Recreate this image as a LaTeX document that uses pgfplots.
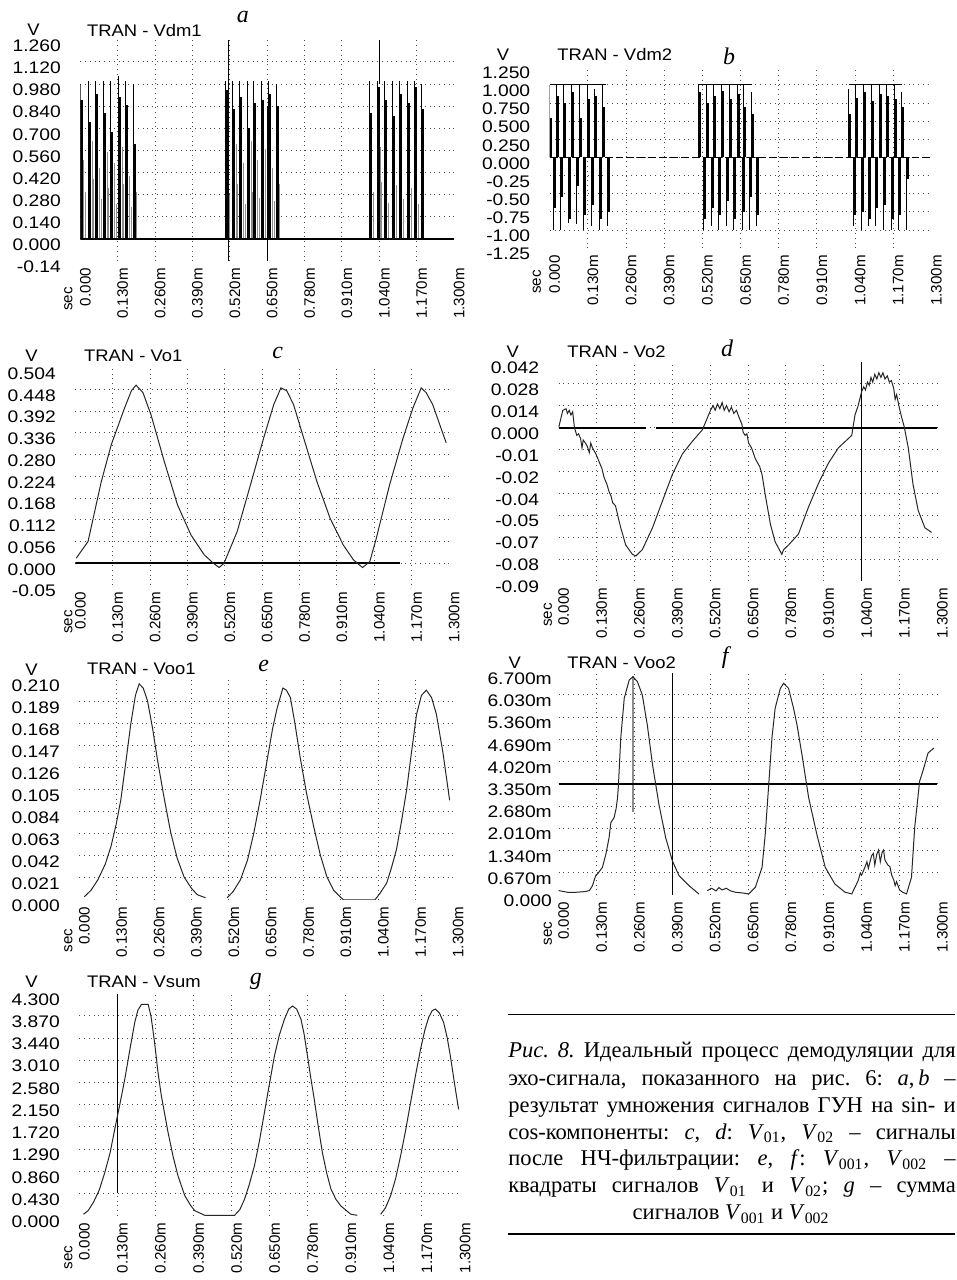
\documentclass[border=0pt]{standalone}
\usepackage{fontspec}
\setmainfont{Liberation Sans}
\newfontfamily\serif{Liberation Serif}
\usepackage{pgfplots}
\pgfplotsset{compat=1.18}

\pgfplotsset{
  panel/.style={
    scale only axis, anchor=north west,
    xmin=0, xmax=1.3,
    scaled ticks=false,
    xtick={0.13,0.26,0.39,0.52,0.65,0.78,0.91,1.04,1.17},
    xticklabels={0.130m,0.260m,0.390m,0.520m,0.650m,0.780m,0.910m,1.040m,1.170m},
    extra x ticks={0,1.3}, extra x tick labels={0.000,1.300m},
    extra x tick style={grid=none},
    extra y tick style={grid=none},
    xmajorgrids, ymajorgrids,
    grid style={dotted, black!70, line width=0.5pt},
    axis line style={draw=none},
    major tick length=0pt,
    xticklabel style={xshift=2.5pt, rotate=90, anchor=east, font=\fontsize{7.6}{8}\selectfont},
    yticklabel style={font=\fontsize{8.4}{9}\selectfont, xscale=1.15, xshift=-5pt, yshift=-3pt},
  },
  sig/.style={black!85, line width=0.5pt, no marks},
}

\begin{document}
\frenchspacing
\begin{tikzpicture}
\begin{scope}[x=0.5pt,y=-0.5pt]
  \path[use as bounding box] (0,0) rectangle (948,1280);
  \coordinate (A) at (69,40);
  \coordinate (B) at (540,67);
  \coordinate (C) at (64,369);
  \coordinate (D) at (549,363);
  \coordinate (E) at (68,682);
  \coordinate (F) at (549,675);
  \coordinate (G) at (68,997);
\end{scope}

% ---------- a: Vdm1
\begin{axis}[panel, at={(A)}, width=187.5pt, height=111pt,
  ymin=-0.14, ymax=1.26,
  ytick={0,0.14,0.28,0.42,0.56,0.70,0.84,0.98,1.12},
  yticklabels={0.000,0.140,0.280,0.420,0.560,0.700,0.840,0.980,1.120},
  extra y ticks={-0.14,1.26}, extra y tick labels={-0.14,1.260}]
\addplot[ycomb, black!45, line width=0.4pt, no marks] coordinates {
 (0.012,0.50)(0.019,0.30)(0.041,0.62)(0.046,0.38)(0.066,0.45)(0.072,0.25)(0.093,0.55)(0.098,0.32)
 (0.118,0.48)(0.124,0.22)(0.145,0.58)(0.150,0.35)(0.170,0.40)(0.176,0.20)(0.194,0.30)
 (0.514,0.55)(0.520,0.28)(0.543,0.60)(0.548,0.35)(0.567,0.48)(0.573,0.22)(0.594,0.62)(0.598,0.30)
 (0.616,0.50)(0.622,0.26)(0.644,0.57)(0.649,0.33)(0.668,0.45)(0.674,0.24)(0.692,0.35)
 (1.013,0.52)(1.020,0.30)(1.042,0.58)(1.047,0.36)(1.066,0.47)(1.072,0.23)(1.094,0.60)(1.099,0.34)
 (1.118,0.50)(1.124,0.25)(1.146,0.56)(1.150,0.32)(1.170,0.44)(1.176,0.22)(1.193,0.30)};
\addplot[ycomb, black, line width=1.1pt, no marks] coordinates {
 (0.004,0.88)(0.033,0.74)(0.058,0.92)(0.085,0.80)(0.110,0.68)(0.137,0.90)(0.162,0.85)(0.189,0.60)
 (0.510,0.94)(0.535,0.82)(0.560,0.90)(0.587,0.70)(0.608,0.86)(0.636,0.88)(0.660,0.92)(0.688,0.84)
 (1.010,0.80)(1.038,0.96)(1.062,0.88)(1.090,0.78)(1.114,0.92)(1.142,0.86)(1.166,0.96)(1.190,0.82)};
\addplot[ycomb, black, line width=0.5pt, no marks] coordinates {
 (0.000,0.98)(0.028,1.00)(0.052,1.00)(0.080,1.00)(0.104,1.00)(0.132,1.03)(0.156,1.00)(0.184,0.98)
 (0.506,1.00)(0.530,1.00)(0.555,1.00)(0.582,1.00)(0.603,1.00)(0.631,1.00)(0.655,1.00)(0.683,0.98)
 (1.005,1.00)(1.033,1.00)(1.057,1.00)(1.085,1.00)(1.109,1.00)(1.137,1.00)(1.161,1.00)(1.186,0.98)};
\addplot[black, line width=1pt] coordinates {(0,0)(1.3,0)};
\addplot[black, line width=0.5pt] coordinates {(0.517,-0.14)(0.517,1.26)};
\addplot[black, line width=0.5pt] coordinates {(0.65,-0.14)(0.65,0.84)};
\addplot[black, line width=0.5pt] coordinates {(1.04,0.98)(1.04,1.26)};
\end{axis}

% ---------- b: Vdm2
\begin{axis}[panel, at={(B)}, width=191.5pt, height=91pt,
  ymin=-1.25, ymax=1.25,
  ytick={-1,-0.75,-0.5,-0.25,0,0.25,0.5,0.75,1},
  yticklabels={-1.00,-0.75,-0.50,-0.25,0.000,0.250,0.500,0.750,1.000},
  extra y ticks={-1.25,1.25}, extra y tick labels={-1.25,1.250}]
\addplot[ycomb, black, line width=1.1pt, no marks] coordinates {
 (0.005,0.55)(0.029,0.85)(0.053,0.75)(0.080,0.90)(0.107,0.55)(0.134,0.80)(0.158,0.85)(0.185,0.70)
 (0.511,0.90)(0.538,0.75)(0.562,0.85)(0.589,0.92)(0.616,0.80)(0.643,0.88)(0.664,0.70)(0.691,0.60)
 (1.023,0.60)(1.047,0.82)(1.074,0.90)(1.101,0.78)(1.128,0.88)(1.152,0.85)(1.179,0.80)(1.203,0.70)
 (0.019,-0.70)(0.042,-0.55)(0.069,-0.85)(0.097,-0.40)(0.120,-0.80)(0.148,-0.65)(0.175,-0.85)(0.202,-0.75)
 (0.528,-0.85)(0.555,-0.70)(0.579,-0.80)(0.606,-0.60)(0.630,-0.85)(0.660,-0.75)(0.684,-0.55)(0.708,-0.80)
 (1.040,-0.80)(1.067,-0.75)(1.091,-0.85)(1.115,-0.70)(1.142,-0.65)(1.169,-0.85)(1.193,-0.80)(1.219,-0.30)};
\addplot[ycomb, black, line width=0.5pt, no marks] coordinates {
 (0.000,1.0)(0.024,1.0)(0.048,1.0)(0.075,1.0)(0.102,1.0)(0.129,1.0)(0.153,0.95)(0.180,1.0)
 (0.506,1.0)(0.533,1.0)(0.557,1.0)(0.584,1.0)(0.611,1.0)(0.638,1.0)(0.659,1.0)(0.686,0.90)
 (1.018,0.95)(1.042,1.0)(1.069,1.0)(1.096,1.0)(1.123,1.0)(1.147,1.0)(1.174,1.0)(1.198,0.90)
 (0.014,-1.0)(0.037,-1.0)(0.064,-0.9)(0.092,-0.92)(0.115,-1.0)(0.143,-0.95)(0.170,-1.0)(0.197,-0.95)
 (0.523,-1.0)(0.550,-0.95)(0.574,-1.0)(0.601,-0.95)(0.625,-1.0)(0.655,-1.0)(0.679,-1.0)(0.703,-0.95)
 (1.035,-0.95)(1.062,-1.0)(1.086,-0.95)(1.110,-0.95)(1.137,-1.0)(1.164,-1.0)(1.188,-1.0)(1.215,-1.0)};
\addplot[black, line width=0.5pt] coordinates {(0,1)(0.19,1)};
\addplot[black, line width=0.5pt] coordinates {(0.506,1)(0.69,1)};
\addplot[black, line width=0.5pt] coordinates {(1.018,1)(1.20,1)};
\addplot[black, line width=0.9pt, dash pattern=on 4pt off 1.5pt] coordinates {(0,0)(1.3,0)};
\end{axis}

% ---------- c: Vo1
\begin{axis}[panel, at={(C)}, width=187.5pt, height=109pt,
  ymin=-0.056, ymax=0.504,
  ytick={0,0.056,0.112,0.168,0.224,0.28,0.336,0.392,0.448},
  yticklabels={0.000,0.056,0.112,0.168,0.224,0.280,0.336,0.392,0.448},
  extra y ticks={-0.056,0.504}, extra y tick labels={-0.05,0.504}]
\addplot[black, line width=1pt] coordinates {(0,0)(1.13,0)};
\addplot[sig] coordinates {
 (0.003,0.013)(0.044,0.056)(0.09,0.21)(0.125,0.306)(0.171,0.40)(0.195,0.445)(0.211,0.459)
 (0.235,0.44)(0.263,0.383)(0.309,0.263)(0.355,0.151)(0.402,0.073)(0.448,0.022)(0.48,0.0)
 (0.50,-0.011)(0.517,0.0)(0.563,0.082)(0.609,0.202)(0.655,0.323)(0.69,0.409)(0.715,0.452)
 (0.735,0.445)(0.759,0.409)(0.794,0.323)(0.84,0.211)(0.886,0.116)(0.932,0.047)(0.967,0.009)
 (0.999,-0.011)(1.024,0.004)(1.047,0.065)(1.093,0.202)(1.14,0.323)(1.174,0.40)(1.203,0.452)
 (1.22,0.44)(1.243,0.409)(1.29,0.31)};
\end{axis}

% ---------- d: Vo2
\begin{axis}[panel, at={(D)}, width=190pt, height=110pt,
  ymin=-0.098, ymax=0.042,
  ytick={-0.084,-0.07,-0.056,-0.042,-0.028,-0.014,0,0.014,0.028},
  yticklabels={-0.08,-0.07,-0.05,-0.04,-0.02,-0.01,0.000,0.014,0.028},
  extra y ticks={-0.098,0.042}, extra y tick labels={-0.09,0.042}]
\addplot[black, line width=1pt] coordinates {(0,0)(0.30,0)};
\addplot[black, line width=1pt] coordinates {(0.333,0)(1.3,0)};
\addplot[black, line width=0.5pt] coordinates {(1.04,-0.098)(1.04,0.042)};
\addplot[sig] coordinates {
 (0,0)(0.014,0.011)(0.025,0.012)(0.030,0.009)(0.036,0.011)(0.042,0.008)(0.048,0.010)(0.054,0.0)
 (0.062,-0.005)(0.068,-0.004)(0.075,-0.007)(0.080,-0.013)(0.084,-0.008)(0.092,-0.010)(0.098,-0.012)
 (0.105,-0.016)(0.110,-0.010)(0.116,-0.013)(0.122,-0.015)(0.128,-0.017)(0.139,-0.022)(0.148,-0.026)
 (0.156,-0.032)(0.165,-0.036)(0.173,-0.041)(0.18,-0.044)(0.185,-0.048)(0.195,-0.050)(0.205,-0.058)
 (0.213,-0.064)(0.230,-0.075)(0.253,-0.081)(0.265,-0.082)(0.287,-0.078)(0.322,-0.064)(0.356,-0.047)
 (0.39,-0.030)(0.424,-0.017)(0.458,-0.009)(0.493,-0.0015)(0.51,0.006)(0.521,0.011)(0.53,0.014)
 (0.537,0.011)(0.545,0.015)(0.553,0.012)(0.561,0.016)(0.568,0.011)(0.576,0.014)(0.585,0.010)
 (0.593,0.013)(0.601,0.009)(0.610,0.011)(0.618,0.007)(0.629,0.002)(0.633,-0.003)(0.640,-0.005)
 (0.646,-0.004)(0.652,-0.010)(0.662,-0.013)(0.675,-0.020)(0.690,-0.025)(0.698,-0.030)(0.709,-0.043)
 (0.727,-0.062)(0.743,-0.073)(0.766,-0.081)(0.772,-0.078)(0.789,-0.075)(0.823,-0.068)(0.857,-0.051)
 (0.891,-0.036)(0.925,-0.023)(0.96,-0.013)(1.006,-0.005)(1.017,0.008)(1.028,0.014)(1.04,0.023)
 (1.047,0.026)(1.053,0.024)(1.060,0.029)(1.066,0.027)(1.072,0.032)(1.078,0.029)(1.085,0.034)
 (1.092,0.031)(1.099,0.035)(1.106,0.032)(1.113,0.035)(1.12,0.031)(1.128,0.033)(1.135,0.029)
 (1.142,0.030)(1.150,0.025)(1.155,0.018)(1.16,0.021)(1.17,0.012)(1.178,0.006)(1.186,0.0006)
 (1.2,-0.013)(1.216,-0.036)(1.234,-0.053)(1.257,-0.064)(1.28,-0.067)};
\end{axis}

% ---------- e: Voo1
\begin{axis}[panel, at={(E)}, width=187.5pt, height=110.5pt,
  ymin=0, ymax=0.21,
  ytick={0.021,0.042,0.063,0.084,0.105,0.126,0.147,0.168,0.189},
  yticklabels={0.021,0.042,0.063,0.084,0.105,0.126,0.147,0.168,0.189},
  extra y ticks={0,0.21}, extra y tick labels={0.000,0.210}]
\addplot[sig] coordinates {
 (0.017,0.003)(0.04,0.009)(0.064,0.019)(0.09,0.034)(0.11,0.051)(0.128,0.072)(0.144,0.095)
 (0.162,0.132)(0.179,0.168)(0.195,0.195)(0.208,0.206)(0.222,0.202)(0.237,0.19)(0.255,0.163)
 (0.272,0.133)(0.295,0.097)(0.318,0.064)(0.34,0.040)(0.364,0.022)(0.39,0.011)(0.41,0.005)(0.439,0.002)};
\addplot[sig] coordinates {
 (0.514,0.002)(0.535,0.008)(0.56,0.019)(0.585,0.038)(0.607,0.064)(0.63,0.097)(0.653,0.133)
 (0.672,0.163)(0.688,0.183)(0.708,0.202)(0.72,0.2)(0.734,0.193)(0.75,0.168)(0.768,0.136)
 (0.79,0.102)(0.815,0.07)(0.838,0.043)(0.861,0.022)(0.885,0.009)(0.907,0.003)(0.919,0)
 (1.028,0)(1.045,0.006)(1.069,0.016)(1.085,0.03)(1.103,0.048)(1.12,0.074)(1.138,0.104)
 (1.155,0.140)(1.173,0.177)(1.19,0.195)(1.207,0.2)(1.225,0.193)(1.242,0.177)(1.265,0.140)(1.288,0.095)};
\end{axis}

% ---------- f: Voo2
\begin{axis}[panel, at={(F)}, width=190pt, height=111.5pt,
  ymin=0, ymax=6.7,
  ytick={0.67,1.34,2.01,2.68,3.35,4.02,4.69,5.36,6.03},
  yticklabels={0.670m,1.340m,2.010m,2.680m,3.350m,4.020m,4.690m,5.360m,6.030m},
  extra y ticks={0,6.7}, extra y tick labels={0.000,6.700m},
  yticklabel style={xshift=5.5pt}]
\addplot[black!45, line width=0.8pt] coordinates {(0.255,2.5)(0.255,6.6)};
\addplot[black, line width=0.5pt] coordinates {(0.39,0)(0.39,6.7)};
\addplot[black, line width=0.9pt] coordinates {(0,3.35)(1.3,3.35)};
\addplot[sig] coordinates {
 (0,0.13)(0.03,0.08)(0.06,0.08)(0.09,0.10)(0.105,0.13)(0.116,0.28)(0.122,0.45)(0.128,0.60)
 (0.133,0.63)(0.15,0.83)(0.162,1.23)(0.173,1.73)(0.179,2.18)(0.19,2.33)(0.197,2.60)(0.202,2.93)
 (0.205,3.30)(0.213,4.73)(0.225,5.93)(0.242,6.48)(0.255,6.58)(0.27,6.43)(0.287,6.03)(0.304,5.13)
 (0.322,3.93)(0.344,2.73)(0.367,1.73)(0.39,1.03)(0.413,0.58)(0.447,0.28)(0.481,0.03)};
\addplot[sig] coordinates {
 (0.51,0.13)(0.525,0.20)(0.54,0.12)(0.55,0.22)(0.561,0.15)(0.575,0.20)(0.59,0.12)(0.607,0.08)
 (0.63,0.06)(0.652,0.03)(0.675,0.23)(0.698,0.83)(0.709,1.83)(0.721,3.33)(0.732,4.73)(0.743,5.63)
 (0.761,6.23)(0.772,6.38)(0.789,6.23)(0.806,5.63)(0.818,5.13)(0.835,4.23)(0.858,2.93)(0.886,1.83)
 (0.915,0.83)(0.948,0.33)(0.983,0.08)(1.006,0.03)(1.028,0.43)(1.035,0.65)(1.040,0.60)(1.051,0.83)
 (1.058,1.00)(1.063,0.80)(1.074,1.18)(1.08,1.25)(1.085,0.90)(1.092,1.23)(1.098,1.35)(1.104,1.00)
 (1.11,1.28)(1.115,1.35)(1.12,1.05)(1.13,0.90)(1.137,0.85)(1.143,0.60)(1.15,0.45)(1.155,0.28)
 (1.16,0.40)(1.17,0.15)(1.181,0.08)(1.194,0.03)(1.211,0.53)(1.222,2.03)(1.239,3.43)(1.25,3.73)
 (1.268,4.28)(1.288,4.43)};
\end{axis}

% ---------- g: Vsum
\begin{axis}[panel, at={(G)}, width=191pt, height=111.5pt,
  ymin=0, ymax=4.3,
  ytick={0.43,0.86,1.29,1.72,2.15,2.58,3.01,3.44,3.87},
  yticklabels={0.430,0.860,1.290,1.720,2.150,2.580,3.010,3.440,3.870},
  extra y ticks={0,4.3}, extra y tick labels={0.000,4.300}]
\addplot[black, line width=0.5pt] coordinates {(0.13,0.45)(0.13,4.3)};
\addplot[sig] coordinates {
 (0.014,0.03)(0.03,0.10)(0.048,0.26)(0.068,0.50)(0.087,0.84)(0.105,1.22)(0.121,1.68)(0.138,2.15)
 (0.155,2.64)(0.172,3.20)(0.189,3.74)(0.20,3.98)(0.212,4.09)(0.235,4.09)(0.245,3.85)(0.257,3.35)
 (0.268,2.80)(0.28,2.32)(0.292,1.95)(0.303,1.61)(0.32,1.15)(0.337,0.77)(0.36,0.39)(0.38,0.20)
 (0.394,0.10)(0.428,0.01)(0.53,0.01)(0.548,0.12)(0.564,0.32)(0.58,0.60)(0.598,0.97)(0.615,1.45)
 (0.632,2.0)(0.65,2.58)(0.666,3.09)(0.683,3.50)(0.7,3.8)(0.715,4.0)(0.728,4.06)(0.742,4.0)
 (0.757,3.8)(0.768,3.50)(0.779,3.09)(0.79,2.68)(0.802,2.26)(0.816,1.72)(0.83,1.22)(0.845,0.82)
 (0.859,0.52)(0.876,0.32)(0.893,0.19)(0.927,0.03)(0.949,0.01)};
\addplot[sig] coordinates {
 (1.029,0.03)(1.045,0.15)(1.063,0.39)(1.08,0.72)(1.097,1.16)(1.114,1.65)(1.131,2.19)(1.148,2.72)
 (1.165,3.22)(1.18,3.60)(1.193,3.84)(1.205,3.97)(1.216,4.0)(1.23,3.92)(1.244,3.74)(1.256,3.45)
 (1.267,3.09)(1.28,2.60)(1.295,2.06)};
\end{axis}

% ---------- titles, letters, caption
\begin{scope}[x=0.5pt,y=-0.5pt, font=\fontsize{8.4}{9}\selectfont]
  \foreach \vx/\vy/\tx/\ty/\nm/\lx/\ly/\lt/\sx/\sy in {
      22/30/68/31/Vdm1/232/17/a/57/300,
      493/55/540/55/Vdm2/720/57/b/527/283,
      20/357/65/357/Vo1/267/354/c/57/624,
      503/353/550/353/Vo2/718/350/d/538/617,
      20/672/68/671/Voo1/253/668/e/57/944,
      505/665/550/665/Voo2/716/660/f/538/937,
      20/985/68/985/Vsum/245/985/g/57/1262}{
    \node[xscale=1.1] at (\vx,\vy) {V};
    \node[anchor=west, xscale=1.1] at (\tx,\ty) {TRAN - \nm};
    \node[font=\serif\itshape\fontsize{12}{12}\selectfont] at (\lx,\ly) {\lt};
    \node[rotate=90, font=\fontsize{7.6}{8}\selectfont] at (\sx,\sy) {sec};
  }
  \draw[line width=0.8pt] (498,1018) -- (947,1018);
  \draw[line width=0.8pt] (498,1238) -- (947,1238);
  \begin{scope}[font=\serif\fontsize{11.3}{12}\selectfont]
    \node[anchor=base west, inner sep=0pt] at (498,1061) {\makebox[224.5pt][s]{\textit{Рис. 8.} Идеальный процесс демодуляции для}};
    \node[anchor=base west, inner sep=0pt] at (498,1089) {\makebox[224.5pt][s]{эхо-сигнала, показанного на рис. 6: \textit{a},\,\textit{b} –}};
    \node[anchor=base west, inner sep=0pt] at (498,1116) {\makebox[224.5pt][s]{результат умножения сигналов ГУН на sin- и}};
    \node[anchor=base west, inner sep=0pt] at (498,1143) {\makebox[224.5pt][s]{cos-компоненты: \textit{c}, \textit{d}: \textit{V}\textsubscript{01}, \textit{V}\textsubscript{02} – сигналы}};
    \node[anchor=base west, inner sep=0pt] at (498,1170) {\makebox[224.5pt][s]{после НЧ-фильтрации: \textit{e}, \textit{f}: \textit{V}\textsubscript{001}, \textit{V}\textsubscript{002} –}};
    \node[anchor=base west, inner sep=0pt] at (498,1197) {\makebox[224.5pt][s]{квадраты сигналов \textit{V}\textsubscript{01} и \textit{V}\textsubscript{02}; \textit{g} – сумма}};
    \node[anchor=base, inner sep=0pt] at (722,1224) {сигналов \textit{V}\textsubscript{001} и \textit{V}\textsubscript{002}};
  \end{scope}
\end{scope}
\end{tikzpicture}
\end{document}
